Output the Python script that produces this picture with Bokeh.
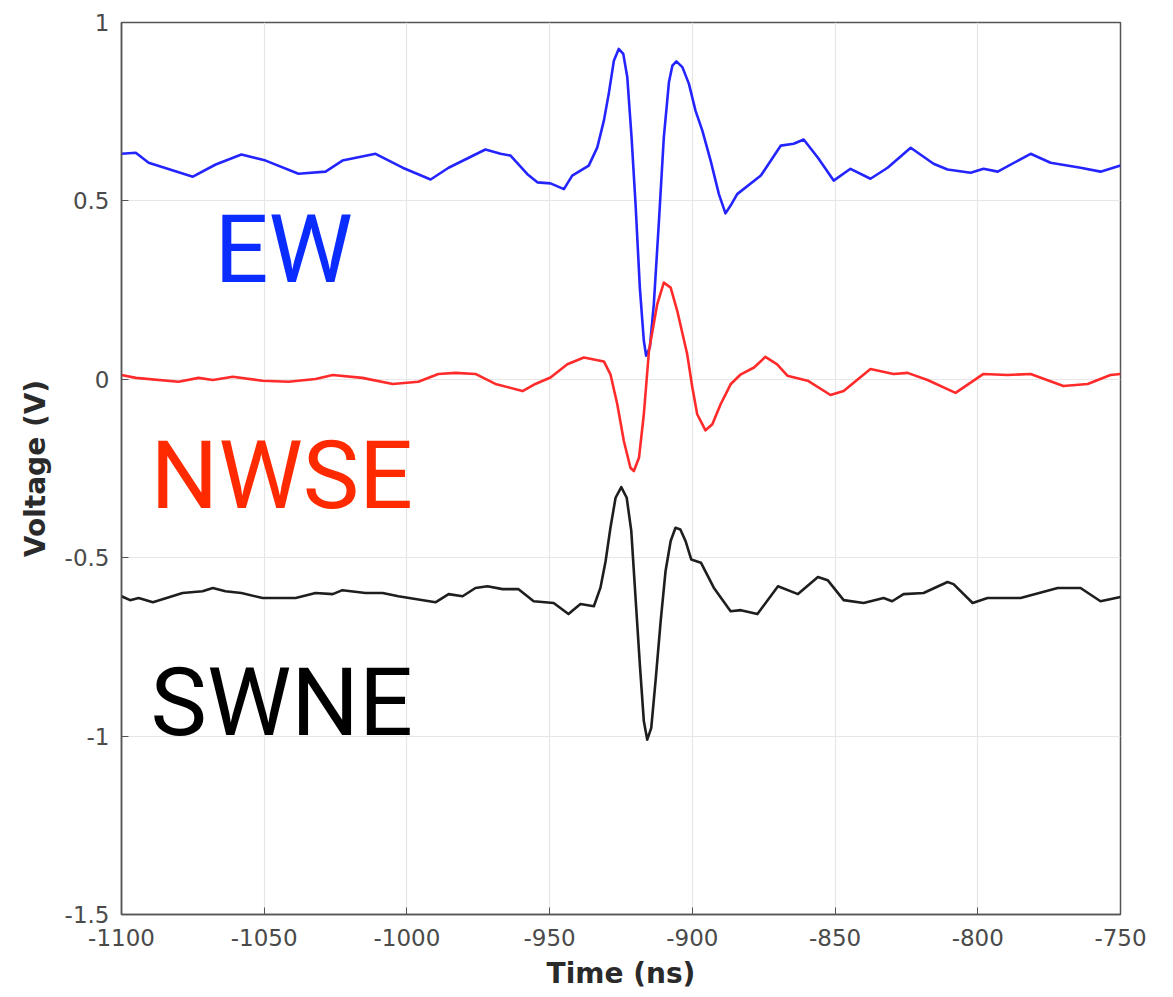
from bokeh.plotting import figure
from bokeh.models import Label, Range1d, FixedTicker
from bokeh.embed import file_html
from bokeh.resources import INLINE

# ---- data ----
ew_t = [-1100, -1095, -1090.5, -1075, -1067, -1058, -1049.5, -1038, -1028.5, -1022.6, -1011, -1001.5,
        -991.7, -985.4, -972.5, -967.2, -963.7, -957.8, -954.3, -949.7, -945, -942.1, -939.2,
        -936.3, -933.3, -931, -929.3, -927.5, -925.8, -924.2, -922.8, -921.3, -919.9, -918.4, -917,
        -916.2, -914.9, -913.5, -911.7, -910, -908.2, -907, -905.6, -903.5, -901.2, -898.9, -896.5,
        -893.6, -890.7, -888.4, -886.6, -884.3, -876, -869, -864.5, -861,
        -856, -850.5, -844.6, -837.6, -831.6, -823.5, -815.5, -810.6, -802.5, -798, -793, -781.5,
        -774.5, -764, -757, -750]
ew_v = [0.632, 0.635, 0.607, 0.568, 0.602, 0.630, 0.613, 0.576, 0.582, 0.613, 0.632, 0.593,
        0.560, 0.593, 0.644, 0.632, 0.627, 0.575, 0.552, 0.549, 0.533, 0.571, 0.585,
        0.599, 0.650, 0.725, 0.800, 0.893, 0.926, 0.912, 0.847, 0.678, 0.491, 0.257, 0.108,
        0.066, 0.089, 0.211, 0.444, 0.678, 0.833, 0.879, 0.891, 0.875, 0.828, 0.753, 0.697,
        0.613, 0.519, 0.465, 0.487, 0.519, 0.571, 0.655, 0.660, 0.672,
        0.621, 0.557, 0.590, 0.562, 0.593, 0.649, 0.604, 0.588, 0.579, 0.590, 0.582, 0.632,
        0.607, 0.593, 0.582, 0.599]

nwse_t = [-1100, -1095, -1080, -1073, -1068, -1061, -1050.6, -1041.5, -1032, -1026, -1015.6, -1005,
          -996, -989, -983, -976, -969, -959.5, -955, -949.7, -943.8, -938, -931, -928.7, -926.3,
          -924, -921.7, -920.5, -918.7, -917, -915.2, -912.3, -910, -907.6, -905.3, -901.8, -900,
          -898.3, -895.4, -893, -890.1, -886.6, -883, -878.4, -874.4, -870.3, -866.7, -859.6,
          -851.6, -847, -837.6, -829.5, -824.6, -817.6, -807.8, -798, -789.6, -781.5, -770,
          -761.5, -753.5, -750]
nwse_v = [0.012, 0.004, -0.007, 0.004, -0.002, 0.007, -0.004, -0.007, 0.001, 0.012, 0.004, -0.013,
          -0.007, 0.015, 0.018, 0.015, -0.013, -0.033, -0.013, 0.005, 0.042, 0.061, 0.050, 0.014,
          -0.070, -0.173, -0.248, -0.257, -0.220, -0.098, 0.080, 0.211, 0.271, 0.257, 0.192,
          0.070, -0.023, -0.098, -0.143, -0.126, -0.070, -0.014, 0.014, 0.033, 0.063, 0.042,
          0.010, -0.004, -0.044, -0.033, 0.029, 0.015, 0.018, -0.002, -0.038, 0.015, 0.012,
          0.015, -0.019, -0.013, 0.012, 0.015]

swne_t = [-1100, -1097, -1094, -1089, -1078.6, -1071.6, -1068, -1063.6, -1058, -1050.6, -1039, -1032,
          -1026, -1022.6, -1014.5, -1008.5, -1003, -990, -985.4, -980.5, -976, -971.8, -966.5, -961,
          -955.6, -948.6, -943.4, -939.2, -934.5, -932.2, -930.4, -928.7, -926.9, -924.9, -923,
          -921.4, -919.9, -918.4, -917, -915.8, -914.4, -912.9, -911.1, -909.4, -907.6, -905.9,
          -904.2, -902.4, -900.4, -897, -892.5, -886.6, -883, -877.2, -870, -863, -856, -852.6,
          -847, -840, -833, -830, -826, -819, -810.6, -808.5, -801.8, -796.6, -785, -772, -764,
          -757, -750]
swne_v = [-0.608, -0.619, -0.613, -0.625, -0.599, -0.594, -0.585, -0.594, -0.599, -0.613, -0.613,
          -0.599, -0.602, -0.591, -0.599, -0.599, -0.608, -0.625, -0.602, -0.608, -0.585, -0.580,
          -0.588, -0.588, -0.622, -0.627, -0.658, -0.630, -0.636, -0.584, -0.510, -0.416, -0.332,
          -0.302, -0.332, -0.425, -0.613, -0.799, -0.958, -1.010, -0.977, -0.846, -0.678, -0.538,
          -0.453, -0.416, -0.421, -0.453, -0.505, -0.514, -0.584, -0.650, -0.647, -0.658, -0.580,
          -0.602, -0.554, -0.563, -0.619, -0.627, -0.613, -0.622, -0.602, -0.599, -0.568, -0.574,
          -0.627, -0.613, -0.613, -0.585, -0.585, -0.622, -0.610]

labels = ["EW", "NWSE", "SWNE"]
label_x = [-1067.4, -1089.8, -1089.8]
label_y = [0.363, -0.27, -0.905]
colors = ["#0a2cff", "#ff2a00", "#000000"]
line_colors = ["#2424ff", "#ff2a2a", "#1e1e1e"]

x_ticks = [-1100, -1050, -1000, -950, -900, -850, -800, -750]
y_ticks = [-1.5, -1, -0.5, 0, 0.5, 1]

p = figure(width=1173, height=997, output_backend="svg", toolbar_location=None,
           x_range=Range1d(-1100, -750), y_range=Range1d(-1.5, 1))
p.min_border_left = 121
p.min_border_right = 53
p.min_border_top = 22
p.min_border_bottom = 83
p.background_fill_color = "white"
p.border_fill_color = "white"
p.outline_line_color = "#555555"
p.outline_line_width = 1.5

for ax in (p.xaxis[0], p.yaxis[0]):
    ax.axis_line_color = "#555555"
    ax.axis_line_width = 1.5
    ax.major_tick_in = 7
    ax.major_tick_out = 0
    ax.minor_tick_line_color = None
    ax.major_tick_line_color = "#555555"
    ax.major_label_text_font = "DejaVu Sans"
    ax.major_label_text_font_size = "23px"
    ax.major_label_text_color = "#4a4a4a"
    ax.axis_label_text_font = "DejaVu Sans"
    ax.axis_label_text_font_style = "bold"
    ax.axis_label_text_font_size = "28px"
    ax.axis_label_text_color = "#2a2a2a"

p.xaxis.ticker = FixedTicker(ticks=x_ticks)
p.yaxis.ticker = FixedTicker(ticks=y_ticks)
p.xaxis.major_label_overrides = {t: str(t) for t in x_ticks}
p.yaxis.major_label_overrides = {-1.5: "-1.5", -1: "-1", -0.5: "-0.5", 0: "0", 0.5: "0.5", 1: "1"}
p.xaxis.axis_label = "Time (ns)"
p.yaxis.axis_label = "Voltage (V)"
p.xaxis.major_label_standoff = 14
p.yaxis.major_label_standoff = 12
p.xaxis.axis_label_standoff = 8
p.yaxis.axis_label_standoff = 10

p.xgrid.grid_line_color = "#e6e6e6"
p.ygrid.grid_line_color = "#e6e6e6"
p.xgrid.grid_line_width = 1.2
p.ygrid.grid_line_width = 1.2

for t, v, c in zip([ew_t, nwse_t, swne_t], [ew_v, nwse_v, swne_v], line_colors):
    p.line(t, v, line_color=c, line_width=2.6, line_join="round")

for txt, lx, ly, c in zip(labels, label_x, label_y, colors):
    p.add_layout(Label(x=lx, y=ly, text=txt, text_color=c, text_font="Roboto",
                       text_font_size="95px", text_baseline="alphabetic", text_align="left"))

open("out.html", "w").write(file_html(p, INLINE))
